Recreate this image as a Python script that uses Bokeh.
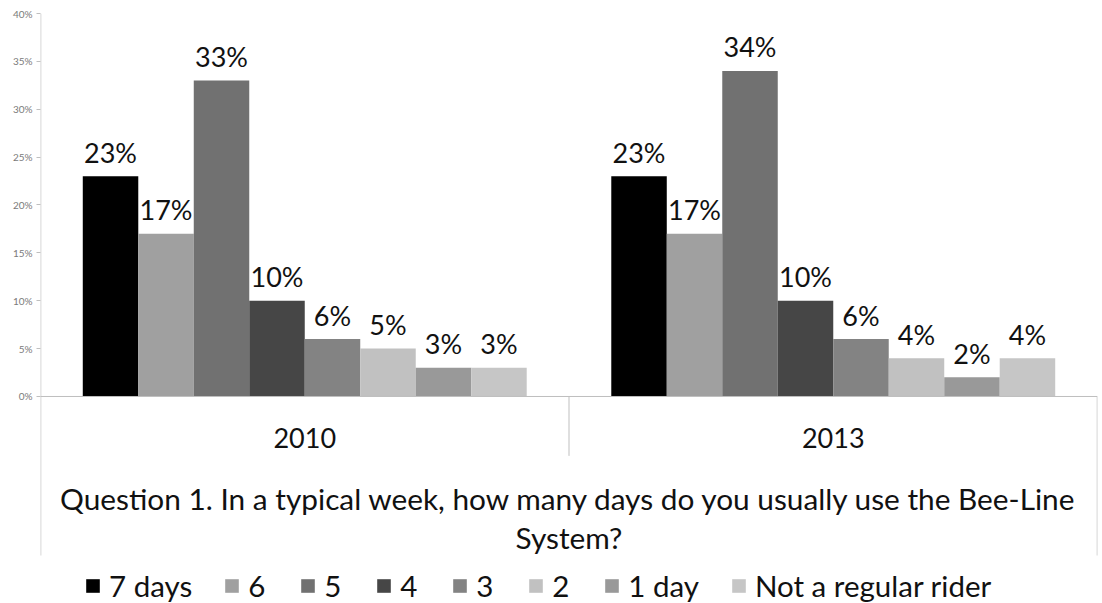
from bokeh.plotting import figure
from bokeh.models import (ColumnDataSource, FactorRange, Range1d, FixedTicker,
                          Span, Legend, LegendItem, PrintfTickFormatter)
from bokeh.transform import dodge
from bokeh.core.properties import value
from bokeh.embed import file_html
from bokeh.resources import INLINE

# Survey answers, share of riders in percent
years = ["2010", "2013"]
series = ["7 days", "6", "5", "4", "3", "2", "1 day", "Not a regular rider"]
share_2010 = [23, 17, 33, 10, 6, 5, 3, 3]
share_2013 = [23, 17, 34, 10, 6, 4, 2, 4]
series_colors = ["#000000", "#a0a0a0", "#717171", "#464646",
                 "#838383", "#c1c1c1", "#999999", "#c6c6c6"]
y_ticks = [0, 5, 10, 15, 20, 25, 30, 35, 40]
question_lines = [
    "Question 1. In a typical week, how many days do you usually use the Bee-Line",
    "System?",
]

FONT = "Lato"
GRID_GRAY = "#bfbfbf"
Y_MIN = -21.619   # room under the baseline for labels, title and legend
AXIS_FLOOR = -16.606  # where the side rules stop

p = figure(
    width=1102, height=603,
    x_range=FactorRange(*years, range_padding=0, factor_padding=0),
    y_range=Range1d(Y_MIN, 40),
    x_axis_location=None,
    output_backend="svg", toolbar_location=None,
    min_border_left=40, min_border_right=5,
    min_border_top=13, min_border_bottom=0,
)
p.outline_line_color = None
p.xgrid.visible = False
p.ygrid.visible = False

# value axis (its rule is drawn as a segment so it stops above the legend)
yax = p.yaxis[0]
yax.ticker = FixedTicker(ticks=y_ticks)
yax.formatter = PrintfTickFormatter(format="%d%%")
yax.axis_line_color = None
yax.major_tick_line_color = GRID_GRAY
yax.major_tick_out = 4
yax.major_tick_in = 0
yax.minor_tick_line_color = None
yax.major_label_standoff = 4
yax.major_label_text_font = FONT
yax.major_label_text_font_size = "10px"
yax.major_label_text_color = "#7a7a7a"

# category baseline, left rule and separators
p.add_layout(Span(location=0, dimension="width", line_color=GRID_GRAY, line_width=1))
p.segment(x0=[0.0005, 1.0, 1.9995], y0=[40, 0, 0],
          x1=[0.0005, 1.0, 1.9995], y1=[AXIS_FLOOR, -6.2, AXIS_FLOOR],
          line_color=GRID_GRAY, line_width=1)

n = len(series)
bar_w = 0.84 / n
items = []
for i, name in enumerate(series):
    src = ColumnDataSource(dict(
        year=years,
        share=[share_2010[i], share_2013[i]],
        label=[f"{share_2010[i]}%", f"{share_2013[i]}%"],
    ))
    off = (i - (n - 1) / 2) * bar_w
    r = p.vbar(x=dodge("year", off, range=p.x_range), top="share", bottom=0,
               width=bar_w, source=src, fill_color=series_colors[i], line_color=None)
    p.text(x=dodge("year", off, range=p.x_range), y="share", text="label", source=src,
           text_align="center", text_baseline="alphabetic", y_offset=-24,
           text_font=value(FONT), text_font_size="27px", text_color="#111111")
    items.append(LegendItem(label=name, renderers=[r]))

# year labels under each group
p.text(x=years, y=[0, 0], text=years, text_align="center", text_baseline="alphabetic",
       y_offset=42, text_font=value(FONT), text_font_size="27px", text_color="#111111")

# axis title, two lines
p.text(x=[1.0, 1.0], y=[0, 0], text=question_lines, text_align="center",
       text_baseline="alphabetic", y_offset=[102, 141],
       text_font=value(FONT), text_font_size="29.8px", text_color="#111111")

legend = Legend(items=items, orientation="horizontal", location=(44, 0),
                glyph_width=17, glyph_height=17, label_standoff=8, spacing=31,
                padding=0, margin=0, border_line_color=None,
                background_fill_alpha=0,
                label_text_font=FONT, label_text_font_size="29.5px",
                label_text_color="#111111")
p.add_layout(legend)

open("out.html", "w").write(file_html(p, INLINE))
